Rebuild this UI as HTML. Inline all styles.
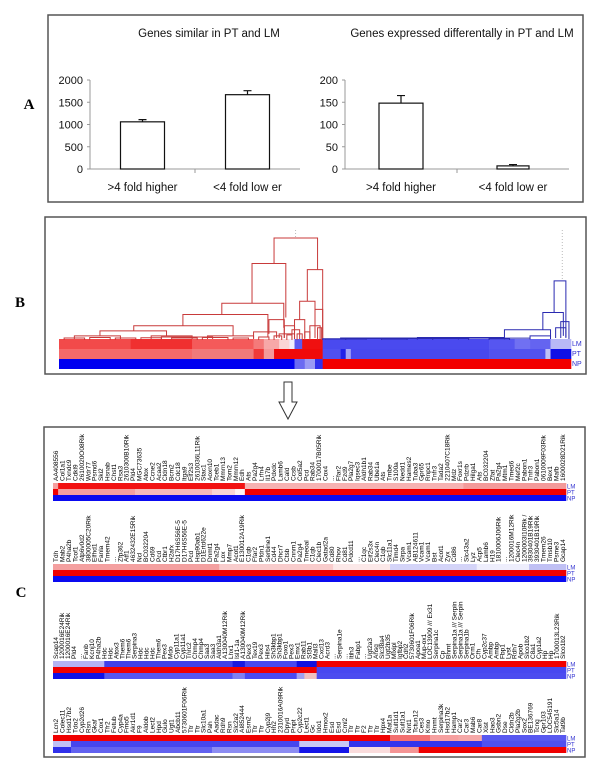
<!DOCTYPE html>
<html><head><meta charset="utf-8"><style>
html,body{margin:0;padding:0;background:#fff;}
svg text{font-family:"Liberation Sans",Arial,sans-serif;}
</style></head><body>
<svg id="fig" width="600" height="769" viewBox="0 0 600 769" xmlns="http://www.w3.org/2000/svg">
<rect x="0" y="0" width="600" height="769" fill="#fff"/>
<g id="panelA">
<rect x="48" y="15" width="535" height="187" fill="none" stroke="#555" stroke-width="1.5"/>
<text x="29" y="109" font-family="Liberation Serif" font-weight="bold" font-size="15" text-anchor="middle" style="font-family:'Liberation Serif',serif">A</text>
</g>
<g id="panelB">
<rect x="45" y="217" width="541" height="157" fill="none" stroke="#555" stroke-width="1.5"/>
<text x="20" y="307" font-size="15" font-weight="bold" text-anchor="middle" style="font-family:'Liberation Serif',serif">B</text>
</g>
<g>
<path d="M284,382 L292,382 L292,402 L297,402 L288,419 L279,402 L284,402 Z" fill="#fff" stroke="#333" stroke-width="1"/>
</g>
<g id="panelC">
<rect x="44" y="427" width="541" height="330" fill="none" stroke="#555" stroke-width="1.5"/>
<text x="21" y="597" font-size="15" font-weight="bold" text-anchor="middle" style="font-family:'Liberation Serif',serif">C</text>
</g>
</svg>
<script>
// ---------- Panel A data ----------
const barCategories = [">4 fold higher", "<4 fold low er"];
const similarValues = [1060, 1670];
const similarErrors = [50, 90];
const diffValues = [148, 7];
const diffErrors = [17, 3];
const similarTicks = [0, 500, 1000, 1500, 2000];
const diffTicks = [0, 50, 100, 150, 200];

// ---------- Panel B data (heatmap segments: gene position 0..100, colour) ----------
const bLM = [[0,14,"#f24a4a"],[14,26,"#f03030"],[26,38,"#f45a5a"],[38,40,"#f47a7a"],[40,43,"#f7a8a8"],[43,45,"#fad6d6"],[45,46,"#eeeefc"],[46,47.5,"#5a5af0"],[47.5,51.5,"#f01010"],[51.5,84,"#4a4aef"],[84,89,"#5656f0"],[89,92,"#7070f2"],[92,96,"#6464f0"],[96,100,"#b8b8f6"]];
const bPT = [[0,26,"#f56a6a"],[26,38,"#f07a7a"],[38,40,"#f03a3a"],[40,42,"#f49a9a"],[42,51.5,"#f00a0a"],[51.5,55,"#5050f0"],[55,56,"#2020e8"],[56,57,"#a0a0f4"],[57,84,"#4848ee"],[84,95,"#5252ef"],[95,96,"#c0c0f6"],[96,100,"#1010e6"]];
const bNP = [[0,46,"#0000f0"],[46,48,"#6a6af2"],[48,50,"#9a9af4"],[50,51.5,"#3030ec"],[51.5,100,"#f20000"]];
// dendrogram links: [leftPos, rightPos, topHeight, leftBottomHeight, rightBottomHeight]
const redLinks = [
 [42,50.5,100,75,69],
 [37.7,44.3,75,36,22],
 [31.8,43.9,36,25,12],
 [24.2,40.8,25,14,3],
 [14.6,34,14,9,4],
 [8,21,9,4,4],
 [3,12,4,1,1],[18,26,4,1,1],[29,38,4,1,1],[20,30,3,1,1],
 [41,44,20,6,2],[38,42.5,8,2,2],[43,46,6,2,1],
 [48.5,51.5,69,38,1],[47,50,38,20,10],[46,48,20,4,2],[49,51,14,2,1],[50,51.5,30,2,1],
 [44,46,14,2,1],[45.5,47,10,1,1],
 [1,5,2,0,0],[6,10,2.5,0,0],[11,15,2,0,0],[16,20,2.2,0,0],[22,27,2,0,0],[28,33,2.4,0,0],[34,37,2,0,0],[39,41,3,0,0],
 [42,43.5,4,0,0],[44.5,45.5,5,0,0],[46.5,47.5,6,0,0],[48,49,8,0,0],[50.5,51.3,12,0,0]
];
const blueLinks = [
 [96.7,99,58,27,3],
 [94.5,98.5,27,10,4],
 [87,96,10,3,3],
 [97,99,12,2,2],[98,99.6,18,2,1],
 [55,70,2,0.5,0.5],[60,78,1.5,0.5,0.5],[70,87,2.5,0.5,0.5],[52,60,1,0.3,0.3],[80,92,1.8,0.5,0.5],[92,96,4,1,1],
 [51.5,56,1.2,0,0],[63,68,1,0,0],[73,80,1.5,0,0],[84,88,1.2,0,0]
];

// ---------- Panel C data ----------
const row1Genes = ["AA408556","Col1a1","Txndc9","Cdkl9","2610020O08Rik","Wdr77","Psmd6","Ski2","Hsnab","Chst1","Rsa3","2610300B10Rik","Pld4","MGC73635","Atox","Ccne2","Acaa2","Cldn18","Bcm2","Cdc18","Itga9","Elf2s3","2610036L11Rik","Stac1","Aoxn10","Tceb1","Mmrn13","Tom2","Mmrn12","Edh","Ats","Pa2g4","Lrfn4","Il17b","Pdxdc","Lamb6","Cald","Ccsb","Col5a2","Pcd","Rab34","1700017B05Rik","Cox4","...","Ffar2","Fzd9","Pla2g7","Iqsec3","Aldh1b1","Rab34","Ube1a","Ats","Tmbe","S100a","Nedd1","Hames2","Tuba3","Gpr65","Rnpc1","Tnfr3","Tada2","2210407C18Rik","Mdz","Foxr1s","Pdzrb","Hilga1","Ats","BC032204","Zfat","Pa2g4","Mtm1","Tmed6","Mef2c","Pabon1","Tnfr3","Pabon1","0610009F03Rik","Bex1","Mafb","1600028D21Rik"];
const row2Genes = ["Tdh","Mab2","P4ha2b","Tcof1","Atp6v0d2","3800005C20Rik","Elfhd1","Fanla","Tmem42","...","Zfp362","Atf1","4632432E15Rik","Ncl","BC032204","Cd69","Pcd","Ctbr1","H2afx","D17H6S56E-5","D17H6S56E-5","Pcd","Hsp90ab1","D1Ertd622e","Dnmt1","Pa2g4","Lox","Mmp7","Acot1","E130012A19Rik","C1qb","Ffar2","Pfdn1","Serbine1","Cd44","Dhcr7","Ctsb","Cnnm1","Pa2g4","Tmeoal","C1qb","Clec1b","Gatad2a","Cd80","Rhov","Cd81","Pdcd11","...","C1qc","Eif2s3x","Clec4n","C1qb","Slc11a1","Timd4","Sirpa","Vcam1","AB124611","Vcam1","Vcam1","Bst","Acot1","Zyx","Cd86","...","Slc43a2","Lyz","Acp5","Lamb6","H19","1810006J06Rik","...","1200016M12Rik","Clec4n","1200003I10Rik /","3930401B19Rik","3930401B19Rik","Tmem26","Tmsb10","Psme3","Gcap14"];
const row3Genes = ["Scap14","1200016E24Rik","1200016E24Rik","Pld4","...","Fanb","Kcnj10","P4ha2b","Hdc","Hdc","Atox3","Them6","Them6","Serpina3","Hdc","Hdc","Hdc","Them6","Pex3","Mdo","Cyp11a1","Cyp11a1","Tnrc2","Chmp4","Chmp4","Saa3","Saa3","Aldh3a1","A130040M12Rik","Lhx1","Isl1-1a","A130040M12Rik","Pex3","Tex19","Pex3","Hils4","Sh3kbp1","Sh3kbp1","Foxo1","Pex3","Emx1","Rab11","Sf3b1","Mall3","Cxcl13","Acrd3","...","Serpina1e","...","Itih3","Fabp1","...","Ugt2a3","Ahsg","Slc38a4","Ugt2b35","Mlxipl","Igfbp2","Cdh2","5730601F06Rik","Apoa1","Mup-ox1","LOC13909 /// Ex31","Serpina1c","Cp","Bhmt","Serpina1a /// Serpin","Serpina1a /// Serpin","Serpina1b","Orm1","Cfh","Cyp2c37","Ambp","Ambp","Fbp1","Lyst","Rdh7","Apob","Slco1b2","C8a1","Cyp1a2","Hp","Hp","1700013L23Rik","Slco1b2"];
const row4Genes = ["Lcn2","Colec11","Hsd17b2","Tdo2","Cyp2d26","Rsn","Gkaf","Cox1","Tfr2","Fetub","Cyp4a","Fmo5","Akr1d1","F9","Aldob","Lect2","Hpd","Gulo","Ugt1","Abcb11","5730601F06Rik","Ttr","Ttr","Slc10a1","Pah","Aadac","Rdh9","Rsn","Slc2a2","AI852444","Esm2","Ttr","Ttr","Cyp2j9","Hh2","2310016A09Rik","Dpyd","Pnpt","Cyp2c22","Lect1","Gc","Ido1","Hmox2","Esd","Esd","Cml2","Ttr","Ttr","F2","Ttr","Ttr","Hpx4","Mat1a","Sult1d1","Sult1a1","Nnt1","Tctun12","Ces3","Kmo","Hnmt","Serpina3k","Hsd17b2","Hamp1","Car2","Car3","Mab6","Car8","Xist","Hao3","Gsbn2","Dse","Cldn2b","Pla2g2b","Sox2","BE136769","Tcng","Gpr103","LOC545191","Slc5a14","Tat9b"];
const row1LM = [[0,1,"#f5a0a0"],[1,37.4,"#f21212"],[37.4,80,"#f6b2b2"],[80,100,"#f39a9a"]];
const row1PT = [[0,1,"#f00000"],[1,16,"#f4a0a0"],[16,31,"#f6baba"],[31,35.5,"#f9d4d4"],[35.5,37.4,"#fff2f2"],[37.4,100,"#f00000"]];
const row1NP = [[0,100,"#0a0af0"]];
const row2LM = [[0,32.4,"#f4a0a0"],[32.4,54.6,"#f8cccc"],[54.6,65.7,"#fbe8e8"],[65.7,82.6,"#d4d4f8"],[82.6,92.8,"#eeeefc"],[92.8,100,"#c0c0f4"]];
const row2PT = [[0,100,"#f00000"]];
const row2NP = [[0,100,"#0a0af0"]];
const row3LM = [[0,10,"#b4b4f4"],[10,35,"#4040ea"],[35,37.4,"#1818e0"],[37.4,47.5,"#4848ee"],[47.5,51.4,"#1010e0"],[51.4,100,"#f00000"]];
const row3PT = [[0,51.4,"#f00000"],[51.4,100,"#4848f0"]];
const row3NP = [[0,10,"#1010e8"],[10,35,"#5656f0"],[35,37.4,"#8080f0"],[37.4,47.5,"#4a4af0"],[47.5,49,"#a0a0f0"],[49,51.4,"#f0c0c0"],[51.4,100,"#4c4cf0"]];
const row4LM = [[0,65.7,"#f00000"],[65.7,73.5,"#f37070"],[73.5,79,"#f6a0a0"],[79,83.6,"#f5a8a8"],[83.6,100,"#5858f0"]];
const row4PT = [[0,3.5,"#c0c0f4"],[3.5,48,"#4646ee"],[48,57.7,"#c8c8f6"],[57.7,83.6,"#3434ec"],[83.6,100,"#5050f0"]];
const row4NP = [[0,3.5,"#3030ea"],[3.5,31,"#6262f0"],[31,48,"#8c8cf2"],[48,57.7,"#1515e8"],[57.7,65.7,"#fadcdc"],[65.7,71.3,"#f49494"],[71.3,100,"#f00000"]];

const NS = "http://www.w3.org/2000/svg";
const svg = document.getElementById("fig");
function mk(tag, attrs, parent){ const e=document.createElementNS(NS,tag); for(const k in attrs) e.setAttribute(k,attrs[k]); (parent||svg).appendChild(e); return e; }

// ---------- Panel A bar charts ----------
function barChart(cfg){
  const g = mk("g",{}, document.getElementById("panelA"));
  
  
  const y = v => cfg.y0 - (v - 0) / cfg.max * (cfg.y0 - cfg.y1);
  const t = mk("text",{x:cfg.titleX,y:37,"font-size":11.5,"text-anchor":"middle",fill:"#111"},g);
  t.textContent = cfg.title;
  
  
  const ax = mk("line",{x1:cfg.ax,y1:y(cfg.max),x2:cfg.ax,y2:cfg.y0,stroke:"#999","stroke-width":1},g);
  
  
  const xa = mk("line",{x1:cfg.ax,y1:cfg.y0,x2:cfg.axEnd,y2:cfg.y0,stroke:"#999","stroke-width":1},g);
  
  
  const slot = (cfg.axEnd - cfg.ax) / cfg.cats.length;
  for(let i=1;i<cfg.cats.length;i++){ mk("line",{x1:cfg.ax+slot*i,y1:cfg.y0,x2:cfg.ax+slot*i,y2:cfg.y0+4,stroke:"#999"},g); }
  cfg.ticks.forEach(v=>{
    mk("line",{x1:cfg.ax-3,y1:y(v),x2:cfg.ax,y2:y(v),stroke:"#999"},g);
    const tl = mk("text",{x:cfg.ax-7,y:y(v)+4,"font-size":11,"text-anchor":"end",fill:"#111"},g);
    tl.textContent = v;
    
    
  });
  cfg.cats.forEach((c,i)=>{
    const cx = cfg.ax + slot*(i+0.5);
    const bw = cfg.bw[i];
    const b = mk("rect",{x:cx-bw/2,y:y(cfg.vals[i]),width:bw,height:cfg.y0-y(cfg.vals[i]),fill:"#fff",stroke:"#111","stroke-width":1.2},g);
    
    
    const e = mk("path",{d:`M${cx},${y(cfg.vals[i])} V${y(cfg.vals[i]+cfg.errs[i])} M${cx-4},${y(cfg.vals[i]+cfg.errs[i])} H${cx+4}`,stroke:"#111","stroke-width":1.2,fill:"none"},g);
    
    
    const l = mk("text",{x:cx,y:191,"font-size":11.5,"text-anchor":"middle",fill:"#111"},g);
    l.textContent = c;
    
    
  });
}
barChart({name:"similar-genes-chart",title:"Genes similar in PT and LM",titleX:209,ax:90,axEnd:300,y0:169,y1:80,max:2000,ticks:similarTicks,cats:barCategories,vals:similarValues,errs:similarErrors,bw:[44,44]});
barChart({name:"differential-genes-chart",title:"Genes expressed differentally in PT and LM",titleX:462,ax:345,axEnd:569,y0:169,y1:80,max:200,ticks:diffTicks,cats:barCategories,vals:diffValues,errs:diffErrors,bw:[44,32]});

// ---------- Panel B ----------
const pB = document.getElementById("panelB");
const bx = p => 59 + p/100*512;
const bh = h => 340 - h*1.02;
function strip(segs, x0, x1, yTop, hgt, parent, name){
  const sx = p => x0 + p/100*(x1-x0);
  const g = mk("g",{},parent);
  
  
  segs.forEach(s=>{
    const r = mk("rect",{x:sx(s[0]),y:yTop,width:sx(s[1])-sx(s[0])+0.3,height:hgt,fill:s[2]},g);
    
    
  });
}
strip(bLM,59,571,339,10,pB,"heatmap-lm-row");
strip(bPT,59,571,349,10,pB,"heatmap-pt-row");
strip(bNP,59,571,359,10,pB,"heatmap-np-row");
function links(arr,color,name){
  const g = mk("g",{fill:"none",stroke:color,"stroke-width":1},pB);
  
  
  arr.forEach(l=>{
    const p = mk("path",{d:`M${bx(l[0])},${bh(l[3])} V${bh(l[2])} H${bx(l[1])} V${bh(l[4])}`},g);
    
    
  });
}
links(redLinks,"#c83a3a","red-dendrogram");
links(blueLinks,"#2a2ab0","blue-dendrogram");
mk("line",{x1:bx(46.2),y1:230,x2:bx(46.2),y2:238,stroke:"#bbb","stroke-dasharray":"1,2"},pB);
mk("line",{x1:bx(98.3),y1:230,x2:bx(98.3),y2:281,stroke:"#bbb","stroke-dasharray":"1,2"},pB);
[["LM",346],["PT",356],["NP",366]].forEach(a=>{
  const t = mk("text",{x:572,y:a[1],"font-size":7,fill:"#3030d0"},pB);
  t.textContent = a[0];
  
  
});

// ---------- Panel C ----------
const pC = document.getElementById("panelC");
const cRows = [
 {genes:row1Genes, lm:row1LM, pt:row1PT, np:row1NP, top:483},
 {genes:row2Genes, lm:row2LM, pt:row2PT, np:row2NP, top:564},
 {genes:row3Genes, lm:row3LM, pt:row3PT, np:row3NP, top:661},
 {genes:row4Genes, lm:row4LM, pt:row4PT, np:row4NP, top:735}
];
cRows.forEach((r,ri)=>{
  const g = mk("g",{},pC);
  
  
  const x0=53, x1=566, step=(x1-x0)/r.genes.length;
  r.genes.forEach((name,i)=>{
    const x = x0 + step*(i+0.5) + 2;
    const t = mk("text",{x:0,y:0,"font-size":6.5,fill:"#000",transform:`translate(${x},${r.top-2}) rotate(-90)`},g);
    t.textContent = name;
    
    
  });
  strip(r.lm,x0,x1,r.top,6,g,"heatmap-lm-row");
  strip(r.pt,x0,x1,r.top+6,6,g,"heatmap-pt-row");
  strip(r.np,x0,x1,r.top+12,6,g,"heatmap-np-row");
  [["LM",5.5],["PT",11.5],["NP",17.5]].forEach(a=>{
    const t = mk("text",{x:567,y:r.top+a[1],"font-size":6,fill:"#3030d0"},g);
    t.textContent = a[0];
    
    
  });
});
</script>
</body></html>
